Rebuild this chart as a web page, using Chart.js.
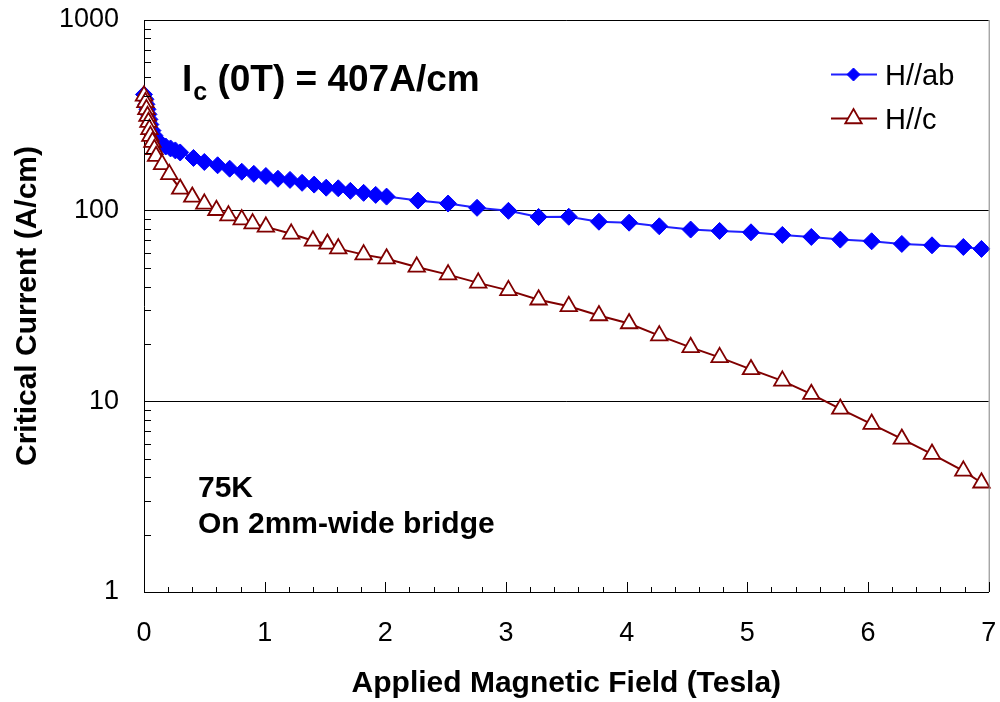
<!DOCTYPE html>
<html>
<head>
<meta charset="utf-8">
<script src="https://cdn.jsdelivr.net/npm/chart.js@4.4.0/dist/chart.umd.min.js"></script>
<style>
  html, body { margin: 0; padding: 0; background: #fff; }
  #wrap { width: 1000px; height: 702px; }
</style>
</head>
<body>
<div id="wrap"><canvas id="icChart" width="1000" height="702"></canvas></div>
<script>
const FONT = "'Liberation Sans', Arial, sans-serif";

// H//ab : applied field (T) and critical current (A/cm)
const fieldAB = [0, 0.012, 0.02, 0.029, 0.037, 0.045, 0.053, 0.07, 0.086, 0.11, 0.14, 0.18, 0.22, 0.26, 0.30,
  0.41, 0.50, 0.61, 0.71, 0.81, 0.91, 1.01, 1.11, 1.21, 1.31, 1.41, 1.51, 1.61, 1.71, 1.82, 1.92, 2.01,
  2.27, 2.52, 2.76, 3.02, 3.27, 3.52, 3.77, 4.02, 4.27, 4.53, 4.77, 5.03, 5.29, 5.53, 5.77, 6.03, 6.28, 6.53, 6.79, 6.94];
const icAB = [407, 384, 361, 340, 320, 301, 283, 263, 248, 236, 225, 217, 212, 207, 202,
  189, 180, 173, 166, 160, 156, 152, 147, 145, 140, 137, 132, 131, 127, 124, 121, 118.5,
  113, 109, 103.5, 99.8, 92.7, 92.9, 87.5, 86.5, 82.8, 79.6, 78.3, 77, 74.6, 72.8, 70.5, 69.1, 66.9, 65.8, 64.5, 63.0];

// H//c
const fieldC = [0, 0.012, 0.02, 0.029, 0.037, 0.045, 0.053, 0.07, 0.086, 0.10, 0.15, 0.21, 0.30,
  0.40, 0.50, 0.60, 0.70, 0.81, 0.90, 1.01, 1.22, 1.40, 1.52, 1.61, 1.82, 2.01,
  2.26, 2.52, 2.77, 3.02, 3.27, 3.52, 3.77, 4.02, 4.27, 4.53, 4.77, 5.03, 5.29, 5.53, 5.77, 6.03, 6.28, 6.53, 6.79, 6.94];
const icC = [400, 370, 340, 313, 291, 267, 246, 229, 210, 193, 175, 155, 130,
  118, 108.6, 100.5, 94.2, 89.8, 85.5, 82.2, 75.6, 69.5, 66.9, 63.2, 58.8, 56,
  50.7, 46.2, 41.8, 38.2, 34.1, 31.5, 28.2, 25.6, 22.1, 19.2, 17.0, 14.7, 12.8, 10.9, 9.12, 7.6, 6.35, 5.29, 4.32, 3.74];

const seriesNames = ["H//ab", "H//c"];
const xTicks = [0, 1, 2, 3, 4, 5, 6, 7];
const yTicks = [1, 10, 100, 1000];

const toPoints = (xs, ys) => xs.map((x, i) => ({ x: x, y: ys[i] }));

// inside tick marks, right frame, legend and text notes
const decorations = {
  id: "decorations",
  afterDraw(chart) {
    const { ctx, chartArea: a, scales: { x, y } } = chart;
    ctx.save();

    ctx.strokeStyle = "#808080";
    ctx.lineWidth = 1;
    ctx.beginPath();
    ctx.moveTo(a.right + 0.5, a.top);
    ctx.lineTo(a.right + 0.5, a.bottom);
    ctx.stroke();

    ctx.strokeStyle = "#000";
    ctx.beginPath();
    for (let d = 1; d < 1000; d *= 10) {
      for (let k = 2; k < 10; k++) {
        const py = Math.round(y.getPixelForValue(d * k)) + 0.5;
        ctx.moveTo(a.left, py);
        ctx.lineTo(a.left + 7, py);
      }
    }
    for (let i = 1; i <= 35; i++) {
      const px = Math.round(x.getPixelForValue(i * 0.2)) + 0.5;
      const len = i % 5 === 0 ? 10 : 5;
      ctx.moveTo(px, a.bottom);
      ctx.lineTo(px, a.bottom - len);
    }
    ctx.stroke();

    // legend
    const items = chart.data.datasets;
    const rows = [74.5, 118.5];
    items.forEach((ds, i) => {
      const ly = rows[i];
      ctx.strokeStyle = ds.borderColor;
      ctx.lineWidth = 2;
      ctx.beginPath();
      ctx.moveTo(831, ly);
      ctx.lineTo(877, ly);
      ctx.stroke();
      ctx.fillStyle = ds.pointBackgroundColor;
      ctx.strokeStyle = ds.pointBorderColor;
      ctx.lineWidth = ds.pointBorderWidth;
      Chart.helpers.drawPoint(ctx, {
        pointStyle: ds.pointStyle,
        radius: ds.pointStyle === "triangle" ? 9.5 : 6.5,
        rotation: 0,
        borderWidth: ds.pointBorderWidth
      }, 853.5, ly);
      ctx.fillStyle = "#000";
      ctx.font = "29px " + FONT;
      ctx.textAlign = "left";
      ctx.textBaseline = "alphabetic";
      ctx.fillText(ds.label, 885, ly + 10.5);
    });

    // Ic (0T) note
    ctx.fillStyle = "#000";
    ctx.textBaseline = "alphabetic";
    ctx.font = "bold 37px " + FONT;
    ctx.fillText("I", 182, 91);
    let tx = 182 + ctx.measureText("I").width;
    ctx.font = "bold 25px " + FONT;
    ctx.fillText("c", tx + 1, 100);
    tx += 1 + ctx.measureText("c").width;
    ctx.font = "bold 37px " + FONT;
    ctx.fillText(" (0T) = 407A/cm", tx, 91);

    ctx.font = "bold 30px " + FONT;
    ctx.fillText("75K", 198, 497);
    ctx.fillText("On 2mm-wide bridge", 198, 533);

    ctx.restore();
  }
};

const ctx = document.getElementById("icChart").getContext("2d");
new Chart(ctx, {
  type: "line",
  data: {
    datasets: [{
      label: seriesNames[0],
      data: toPoints(fieldAB, icAB),
      borderColor: "#2020ff",
      borderWidth: 2,
      pointStyle: "rectRot",
      pointRadius: 8.5,
      pointBackgroundColor: "#0000ff",
      pointBorderColor: "#0000ff",
      pointBorderWidth: 1,
      tension: 0,
      order: 1,
      clip: false
    }, {
      label: seriesNames[1],
      data: toPoints(fieldC, icC),
      borderColor: "#800000",
      borderWidth: 2,
      pointStyle: "triangle",
      pointRadius: 9.5,
      pointBackgroundColor: "#ffffff",
      pointBorderColor: "#800000",
      pointBorderWidth: 1.8,
      tension: 0,
      order: 0,
      clip: false
    }]
  },
  options: {
    responsive: false,
    animation: false,
    events: [],
    layout: { padding: { top: 20, right: 3, left: 0, bottom: 0 } },
    plugins: {
      legend: { display: false },
      tooltip: { enabled: false }
    },
    scales: {
      x: {
        type: "linear",
        min: 0,
        max: 7,
        afterBuildTicks: s => { s.ticks = xTicks.map(v => ({ value: v })); },
        afterFit: s => { s.height = 110; s.paddingLeft = 0; s.paddingRight = 0; },
        grid: { display: false, drawTicks: false },
        border: { display: true, color: "#000", width: 1 },
        ticks: {
          color: "#000",
          padding: 25,
          maxRotation: 0,
          font: { family: FONT, size: 27 }
        },
        title: {
          display: true,
          text: "Applied Magnetic Field (Tesla)",
          color: "#000",
          padding: { top: 0, bottom: 0 },
          font: { family: FONT, size: 30, weight: "bold" }
        }
      },
      y: {
        type: "logarithmic",
        min: 1,
        max: 1000,
        afterBuildTicks: s => { s.ticks = yTicks.map(v => ({ value: v })); },
        afterFit: s => { s.width = 144; s.paddingTop = 0; s.paddingBottom = 0; },
        grid: { color: "#000", lineWidth: 1, drawTicks: false },
        border: { display: true, color: "#000", width: 1 },
        ticks: {
          color: "#000",
          padding: 25,
          font: { family: FONT, size: 27 },
          callback: v => String(v)
        },
        title: {
          display: true,
          text: "Critical Current (A/cm)",
          color: "#000",
          padding: { top: 10, bottom: 0 },
          font: { family: FONT, size: 30, weight: "bold" }
        }
      }
    }
  },
  plugins: [decorations]
});
</script>
</body>
</html>
